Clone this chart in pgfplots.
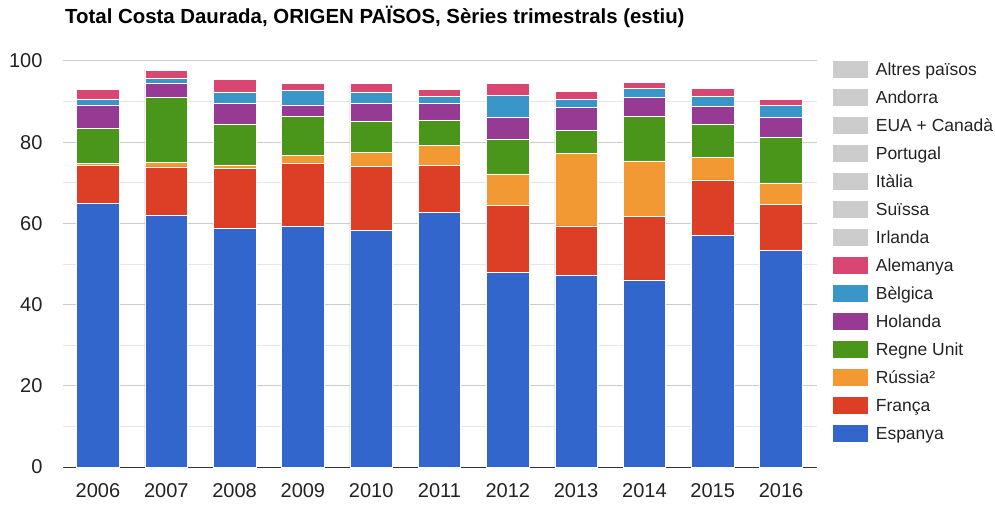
\documentclass[border=0pt]{standalone}
\usepackage{fontspec}
\setmainfont{Liberation Sans}
\usepackage{pgfplots}
\usepackage{pgfplotstable}
\pgfplotsset{compat=1.18}
\definecolor{cEsp}{HTML}{3366CC}
\definecolor{cFra}{HTML}{DC3F26}
\definecolor{cRus}{HTML}{F39933}
\definecolor{cRU}{HTML}{4A961A}
\definecolor{cHol}{HTML}{973A93}
\definecolor{cBel}{HTML}{3A96C8}
\definecolor{cAle}{HTML}{DA4672}
\definecolor{cGry}{HTML}{CCCCCC}
\definecolor{txt}{HTML}{222222}
\definecolor{gmaj}{HTML}{CCCCCC}
\definecolor{gmin}{HTML}{E6E6E6}
\pgfplotsset{sqleg/.style={legend image code/.code={\fill[##1,draw=none] (0pt,-8.5pt) rectangle (35pt,8.5pt);}}}
\pgfplotstableread{
x Esp Fra Rus RU Hol Bel Ale
0 64.9 9.3 0.6 8.6 5.8 1.4 2.4
1 62.1 11.8 1.1 16.0 3.5 1.2 2.0
2 58.8 14.8 0.8 10.1 5.0 2.9 3.1
3 59.4 15.3 2.1 9.5 2.9 3.7 1.5
4 58.4 15.6 3.5 7.7 4.3 2.9 2.0
5 62.7 11.6 5.0 6.2 4.0 1.8 1.7
6 48.0 16.5 7.7 8.6 5.4 5.4 2.8
7 47.3 12.1 17.8 5.8 5.5 2.1 2.0
8 46.1 15.6 13.7 10.9 4.7 2.2 1.5
9 57.0 13.7 5.5 8.3 4.3 2.6 1.9
10 53.3 11.4 5.3 11.2 4.9 2.9 1.6
}\data
\begin{document}
\begin{tikzpicture}
\useasboundingbox (0,0) rectangle (995pt,507pt);
\node[anchor=base west, font=\bfseries\fontsize{20.4}{24}\selectfont, text=black, inner sep=0pt] at (65pt,483pt) {Total Costa Daurada, ORIGEN PAÏSOS, Sèries trimestrals (estiu)};
\begin{axis}[
  at={(63pt,40pt)}, anchor=south west,
  scale only axis, width=754pt, height=406pt,
  ybar stacked, bar width=42.6pt,
  xmin=-0.512, xmax=10.527, ymin=0, ymax=100,
  xtick={0,...,10},
  xticklabels={2006,2007,2008,2009,2010,2011,2012,2013,2014,2015,2016},
  ytick={0,20,...,100}, minor ytick={10,30,...,90},
  ymajorgrids, yminorgrids,
  major grid style={draw=gmaj, line width=1pt},
  minor grid style={draw=gmin, line width=1pt},
  axis line style={draw=none},
  tick style={draw=none},
  major tick length=0pt, minor tick length=0pt,
  /pgf/number format/assume math mode=true,
  ticklabel style={font=\fontsize{20}{24}\selectfont, text=txt},
  yticklabel style={anchor=east, xshift=-17pt},
  xticklabel style={anchor=north, yshift=-13pt},
  reverse legend,
  legend style={at={(1.021,1.0)}, anchor=north west, draw=none, fill=none,
    inner sep=0pt, outer sep=0pt, row sep=11pt, column sep=8pt,
    font=\fontsize{17.5}{20}\selectfont, text=txt,
    nodes={inner sep=0pt, text height=12.5pt, text depth=0pt, anchor=west}},
  legend cell align=left,
]
\addplot[fill=cEsp, draw=white, line width=0.6pt, sqleg] table[x=x,y=Esp]{\data};
\addlegendentry{Espanya}
\addplot[fill=cFra, draw=white, line width=0.6pt, sqleg] table[x=x,y=Fra]{\data};
\addlegendentry{França}
\addplot[fill=cRus, draw=white, line width=0.6pt, sqleg] table[x=x,y=Rus]{\data};
\addlegendentry{Rússia²}
\addplot[fill=cRU, draw=white, line width=0.6pt, sqleg] table[x=x,y=RU]{\data};
\addlegendentry{Regne Unit}
\addplot[fill=cHol, draw=white, line width=0.6pt, sqleg] table[x=x,y=Hol]{\data};
\addlegendentry{Holanda}
\addplot[fill=cBel, draw=white, line width=0.6pt, sqleg] table[x=x,y=Bel]{\data};
\addlegendentry{Bèlgica}
\addplot[fill=cAle, draw=white, line width=0.6pt, sqleg] table[x=x,y=Ale]{\data};
\addlegendentry{Alemanya}
\addlegendimage{fill=cGry, sqleg}\addlegendentry{Irlanda}
\addlegendimage{fill=cGry, sqleg}\addlegendentry{Suïssa}
\addlegendimage{fill=cGry, sqleg}\addlegendentry{Itàlia}
\addlegendimage{fill=cGry, sqleg}\addlegendentry{Portugal}
\addlegendimage{fill=cGry, sqleg}\addlegendentry{EUA + Canadà}
\addlegendimage{fill=cGry, sqleg}\addlegendentry{Andorra}
\addlegendimage{fill=cGry, sqleg}\addlegendentry{Altres països}
\draw[draw=black!80, line width=1pt] (rel axis cs:0,0) -- (rel axis cs:1,0);
\end{axis}
\end{tikzpicture}
\end{document}
